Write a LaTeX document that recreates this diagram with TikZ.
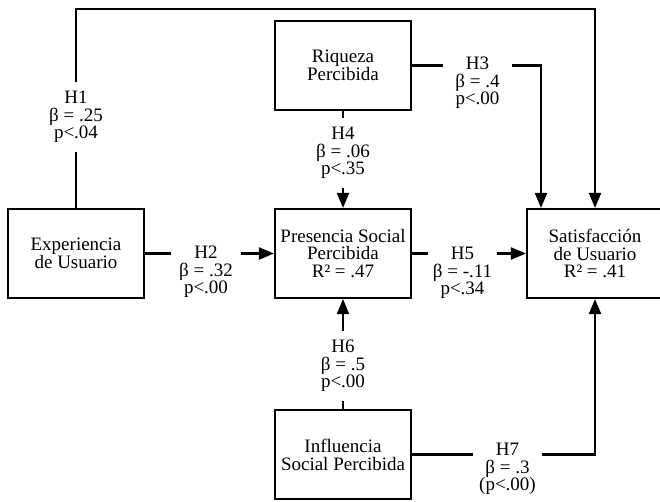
\documentclass[tikz,border=0pt]{standalone}
\usepackage{fontspec}
\setmainfont{Liberation Serif}
\usepackage{tikz}
\usetikzlibrary{arrows.meta,positioning}
\tikzset{
  >={Triangle[length=15pt,width=12pt]},
  link/.style={line width=2.1pt},
  flow/.style={->,line width=2.1pt},
  box/.style={draw,line width=2.1pt,align=center,inner sep=0pt,
    minimum width=136pt,minimum height=89pt,font=\fontsize{19}{17.8}\selectfont},
  coef/.style={align=center,inner sep=0pt,minimum width=69pt,minimum height=70pt,
    font=\fontsize{19}{17.6}\selectfont}
}
\begin{document}
\begin{tikzpicture}[x=1pt,y=-1pt]
  \useasboundingbox (0,0) rectangle (660,501);
  \node[box] (riqueza) at (343,65.5) {Riqueza\\Percibida};
  \node[box] (experiencia) at (76,253.5) {Experiencia\\de Usuario};
  \node[box] (presencia) at (343,253.5) {Presencia Social\\Percibida\\R² = .47};
  \node[box] (satisfaccion) at (595,253.5) {Satisfacción\\de Usuario\\R² = .41};
  \node[box] (influencia) at (343,454.5) {Influencia\\Social Percibida};
  \node[coef] (h1) at (76,117) {H1\\β = .25\\p<.04};
  \node[coef] (h2) at (206,272) {H2\\β = .32\\p<.00};
  \node[coef] (h3) at (477.5,83) {H3\\β = .4\\p<.00};
  \node[coef] (h4) at (343,153) {H4\\β = .06\\p<.35};
  \node[coef] (h5) at (462.5,273) {H5\\β = -.11\\p<.34};
  \node[coef] (h6) at (343,366) {H6\\β = .5\\p<.00};
  \node[coef] (h7) at (507.5,469) {H7\\β = .3\\(p<.00)};
  \coordinate (corner) at (76,9);
  \draw[link] (experiencia) -- (h1); \draw[flow] (h1) -- (corner) -| (satisfaccion);
  \draw[link] (experiencia) -- (h2.west |- experiencia); \draw[flow] (h2.east |- experiencia) -- (presencia);
  \draw[link] (riqueza) -- (h3.west |- riqueza); \draw[flow] (h3.east |- riqueza) -| ([xshift=-54pt]satisfaccion.north);
  \draw[link] (riqueza) -- (h4); \draw[flow] (h4) -- (presencia);
  \draw[link] (presencia) -- (h5.west |- presencia); \draw[flow] (h5.east |- presencia) -- (satisfaccion);
  \draw[link] (influencia) -- (h6); \draw[flow] (h6) -- (presencia);
  \draw[link] (influencia) -- (h7.west |- influencia); \draw[flow] (h7.east |- influencia) -| (satisfaccion);
\end{tikzpicture}
\end{document}
